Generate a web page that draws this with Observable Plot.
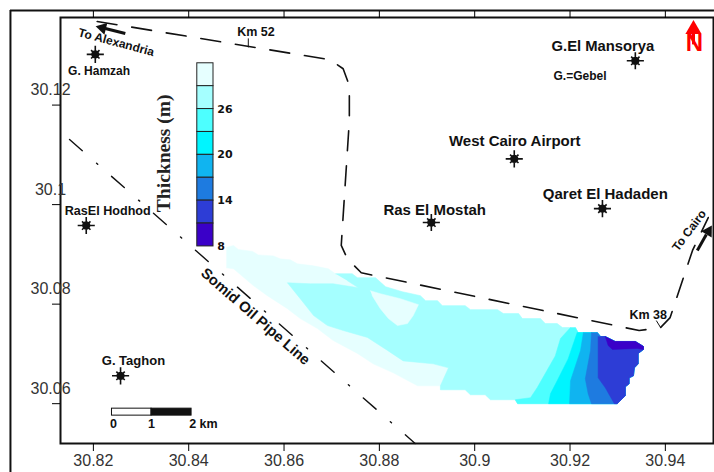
<!DOCTYPE html>
<html>
<head>
<meta charset="utf-8">
<script src="https://cdn.jsdelivr.net/npm/d3@7"></script>
<script src="https://cdn.jsdelivr.net/npm/@observablehq/plot@0.6"></script>
<style>html,body{margin:0;padding:0;background:#fff}svg{display:block}</style>
</head>
<body>
<div id="chart"></div>
<script>
const xTicks = [30.82, 30.84, 30.86, 30.88, 30.9, 30.92, 30.94];
const yTicks = [30.06, 30.08, 30.1, 30.12];

const levelColors = ["#e6ffff", "#a5ffff", "#4dffff", "#00f5ff", "#10b4f0", "#1e7be0", "#2d3dd6", "#3a00c8"];
const legendBreaks = [32, 29, 26, 23, 20, 17, 14, 11, 8];
const legendLabels = [26, 20, 14, 8];

const leftTop = [[30.8479,30.0914],[30.8494,30.0918],[30.8504,30.0910],[30.8534,30.0906],[30.8546,30.0899],[30.8578,30.0897],[30.8592,30.0891],[30.8613,30.0889],[30.8628,30.0881],[30.8662,30.0877],[30.8693,30.0871]];
const topEdge = [[30.8708,30.0861],[30.8743,30.0861],[30.8754,30.0853],[30.8792,30.0853],[30.8813,30.0835],[30.8848,30.0825],[30.8886,30.0817],[30.8897,30.0807],[30.8922,30.0807],[30.8932,30.0797],[30.8980,30.0797],[30.8991,30.0789],[30.9048,30.0789],[30.9060,30.0781],[30.9092,30.0781],[30.9100,30.0771],[30.9138,30.0771],[30.9148,30.0761],[30.9173,30.0761],[30.9184,30.0753],[30.9211,30.0753],[30.9217,30.0743]];
const rim = [[30.9299,30.0600],[30.9316,30.0616],[30.9316,30.0634],[30.9324,30.0640],[30.9324,30.0652],[30.9333,30.0656],[30.9335,30.0672],[30.9343,30.0680],[30.9343,30.0701],[30.9354,30.0709],[30.9354,30.0715],[30.9337,30.0725],[30.9295,30.0725],[30.9274,30.0735],[30.9264,30.0735],[30.9257,30.0743],[30.9217,30.0743],[30.9211,30.0753]];
const bottomNear = [[30.9090,30.0600],[30.9085,30.0608],[30.9033,30.0608],[30.9022,30.0618],[30.8991,30.0618],[30.8980,30.0628],[30.8928,30.0628],[30.8928,30.0636]];
const bottomFar = [[30.8880,30.0636],[30.8829,30.0662],[30.8787,30.0680],[30.8754,30.0701],[30.8703,30.0727],[30.8670,30.0751],[30.8634,30.0771],[30.8607,30.0791],[30.8565,30.0817],[30.8536,30.0837],[30.8494,30.0871],[30.8479,30.0873]];
const innerEdge = [[30.8945,30.0672],[30.8913,30.0680],[30.8850,30.0686],[30.8817,30.0707],[30.8775,30.0733],[30.8724,30.0747],[30.8691,30.0757],[30.8662,30.0777],[30.8634,30.0811],[30.8607,30.0843],[30.8655,30.0841],[30.8703,30.0841],[30.8756,30.0833],[30.8733,30.0847]];
const island = [[30.8781,30.0827],[30.8802,30.0821],[30.8844,30.0811],[30.8882,30.0799],[30.8871,30.0777],[30.8859,30.0761],[30.8838,30.0757],[30.8819,30.0771],[30.8802,30.0791],[30.8785,30.0817]];
const edgeC = [[30.9201,30.0753],[30.9180,30.0731],[30.9169,30.0696],[30.9131,30.0632],[30.9117,30.0612],[30.9085,30.0608],[30.9090,30.0600]];
const edgeD = [[30.9215,30.0743],[30.9196,30.0690],[30.9173,30.0646],[30.9159,30.0620],[30.9155,30.0600]];
const edgeE = [[30.9228,30.0743],[30.9222,30.0707],[30.9201,30.0646],[30.9199,30.0600]];
const edgeF = [[30.9245,30.0743],[30.9243,30.0707],[30.9232,30.0650],[30.9238,30.0620],[30.9245,30.0600]];
const edgeG = [[30.9259,30.0735],[30.9259,30.0652],[30.9274,30.0632],[30.9293,30.0600]];
const deepest = [[30.9274,30.0735],[30.9280,30.0717],[30.9289,30.0709],[30.9341,30.0711],[30.9354,30.0709],[30.9354,30.0715],[30.9337,30.0725],[30.9295,30.0725]];

const road = [[30.8208,30.1368],[30.8697,30.1291],[30.8724,30.1273],[30.8737,30.1239],[30.8737,30.1169],[30.8720,30.0918],[30.8733,30.0891],[30.8762,30.0863],[30.9345,30.0747],[30.9390,30.0753],[30.9410,30.0773],[30.9457,30.0908],[30.9490,30.0974]];
const pipeline = [[30.8150,30.1131],[30.8875,30.0520]];

const siteNames = ["G. Hamzah","G.El Mansorya","West Cairo Airport","Qaret El Hadaden","Ras El Mostah","RasEl Hodhod","G. Taghon"];
const siteLon = [30.8204,30.9337,30.9083,30.9268,30.8909,30.8185,30.8257];
const siteLat = [30.1302,30.1289,30.1092,30.0992,30.0964,30.0958,30.0656];
const labelLon = [30.8212,30.9269,30.9084,30.9274,30.8916,30.8230,30.8284];
const labelLat = [30.1269,30.1318,30.1127,30.1020,30.0988,30.0988,30.0686];
const labelSize = [12,14.8,15,15,15,12.6,13];

const starBurst = {
  draw(ctx, size) {
    const r = Math.sqrt(size);
    for (let i = 0; i < 8; i++) {
      const a = i * Math.PI / 4;
      const k = i % 2 ? 0.8 : 1.15;
      ctx.moveTo(0, 0);
      ctx.lineTo(Math.cos(a) * r * k, Math.sin(a) * r * k);
    }
    ctx.moveTo(r * 0.45, 0);
    ctx.arc(0, 0, r * 0.45, 0, 2 * Math.PI);
  }
};

const lonOf = d => d[0], latOf = d => d[1];
const poly = (pts, fill) => Plot.line(pts, {x: lonOf, y: latOf, fill, stroke: fill, strokeWidth: 0.5});
const withRim = edge => edge.concat(rim.filter(p => p[0] > edge[0][0]));
const sans = "Liberation Sans, Arial, sans-serif";
const label = (text, x, y, size, extra = {}) =>
  Plot.text([text], {x: () => x, y: () => y, text: d => d, fontSize: size, fontWeight: "bold", fontFamily: sans, fill: "#111", ...extra});

const reversedRim = rim.slice().reverse();
const legendX1 = 30.8418, legendX2 = 30.8452;
const legendLat = v => 30.0916 + (v - 8) * (30.1284 - 30.0916) / 24;
const legendCells = levelColors.map((c, i) => ({c, top: legendBreaks[i], bottom: legendBreaks[i + 1]}));

const chart = Plot.plot({
  width: 714,
  height: 472,
  marginLeft: 60,
  marginRight: 1,
  marginTop: 17,
  marginBottom: 29,
  style: {background: "white", fontFamily: sans},
  x: {domain: [30.8131, 30.9501], ticks: xTicks},
  y: {domain: [30.0520, 30.1376], ticks: yTicks},
  marks: [
    poly([...leftTop, ...topEdge, ...reversedRim, ...bottomNear, ...bottomFar], levelColors[0]),
    poly([...topEdge, ...reversedRim, ...bottomNear, ...innerEdge], levelColors[1]),
    poly(island, levelColors[0]),
    poly(withRim(edgeC), levelColors[2]),
    poly(withRim(edgeD), levelColors[3]),
    poly(withRim(edgeE), levelColors[4]),
    poly(withRim(edgeF), levelColors[5]),
    poly(withRim(edgeG), levelColors[6]),
    poly(deepest, levelColors[7]),

    Plot.line(road, {x: lonOf, y: latOf, stroke: "#111", strokeWidth: 1.6, strokeDasharray: "20,15"}),
    Plot.line(pipeline, {x: lonOf, y: latOf, stroke: "#111", strokeWidth: 1.4, strokeDasharray: "17,19,1.5,18.4"}),
    Plot.link([0], {x1: () => 30.8525, x2: () => 30.8525, y1: () => 30.1334, y2: () => 30.1316, stroke: "#111"}),
    Plot.link([0], {x1: () => 30.9381, x2: () => 30.9390, y1: () => 30.0767, y2: () => 30.0753, stroke: "#111"}),

    Plot.frame({stroke: "#111", strokeWidth: 2}),
    Plot.ruleX([30.8026], {y1: 30.1390, y2: 30.0461, stroke: "#111", strokeWidth: 2}),
    Plot.ruleY([30.1390], {x1: 30.8026, x2: 30.9503, stroke: "#111", strokeWidth: 2}),

    Plot.axisX({anchor: "bottom", ticks: xTicks, tickSize: 8, tickPadding: 3, label: null, fontSize: 16, fontFamily: sans, fill: "#333", tickFormat: d => String(d)}),
    Plot.axisX({anchor: "top", ticks: xTicks, tickSize: 7, label: null, tickFormat: () => ""}),
    Plot.axisY({anchor: "left", ticks: yTicks, tickSize: 8, label: null, tickFormat: () => ""}),
    Plot.axisY({anchor: "left", ticks: yTicks, tickSize: 0, tickPadding: 10, textAnchor: "middle", dy: -15, label: null, fontSize: 16, fontFamily: sans, fill: "#333", tickFormat: d => String(d)}),

    Plot.dot(siteNames, {x: (d, i) => siteLon[i], y: (d, i) => siteLat[i], r: 4.2, symbol: starBurst, stroke: "#111", strokeWidth: 1.6, fill: "#111"}),
    Plot.text(siteNames, {x: (d, i) => labelLon[i], y: (d, i) => labelLat[i], text: d => d, fontSize: (d, i) => labelSize[i], fontWeight: "bold", fontFamily: sans, fill: "#111"}),
    label("G.=Gebel", 30.9221, 30.1259, 12),
    label("Km 52", 30.8541, 30.1346, 12.5),
    label("Km 38", 30.9364, 30.0779, 12.5),
    label("To Alexandria", 30.8248, 30.1326, 12, {rotate: 15}),
    label("Somid Oil Pipe Line", 30.8540, 30.0775, 14.8, {rotate: 41}),
    label("To Cairo", 30.9450, 30.0948, 12, {rotate: -53}),
    label("Thickness (m)", 30.8347, 30.1103, 19.5, {rotate: -90, fontFamily: "Liberation Serif, serif", fill: "#222"}),

    Plot.link([0], {x1: () => 30.8267, y1: () => 30.1344, x2: () => 30.8225, y2: () => 30.1354, stroke: "#111", strokeWidth: 3}),
    Plot.dot([0], {x: () => 30.8219, y: () => 30.1355, symbol: "triangle", r: 4.5, rotate: -76, fill: "#111"}),
    Plot.link([0], {x1: () => 30.9467, y1: () => 30.0908, x2: () => 30.9486, y2: () => 30.0940, stroke: "#111", strokeWidth: 3}),
    Plot.dot([0], {x: () => 30.9490, y: () => 30.0946, symbol: "triangle", r: 4.5, rotate: 31, fill: "#111"}),

    Plot.rect(legendCells, {x1: () => legendX1, x2: () => legendX2, y1: d => legendLat(d.bottom), y2: d => legendLat(d.top), fill: d => d.c, stroke: "#222", strokeWidth: 1}),
    Plot.text(legendLabels, {x: () => 30.8460, y: d => legendLat(d), text: d => String(d), textAnchor: "start", fontSize: 11, fontWeight: "bold", fontFamily: "DejaVu Sans, sans-serif", fill: "#111"}),

    Plot.rect([0], {x1: () => 30.8239, x2: () => 30.8322, y1: () => 30.0576, y2: () => 30.0590, fill: "white", stroke: "#111"}),
    Plot.rect([0], {x1: () => 30.8322, x2: () => 30.8406, y1: () => 30.0576, y2: () => 30.0590, fill: "#111", stroke: "#111"}),
    label("0", 30.8242, 30.0560, 12.5),
    label("1", 30.8322, 30.0560, 12.5),
    label("2 km", 30.8401, 30.0560, 12.5, {textAnchor: "start"}),

    Plot.link([0], {x1: () => 30.9459, x2: () => 30.9459, y1: () => 30.1350, y2: () => 30.1322, stroke: "red", strokeWidth: 3}),
    Plot.dot([0], {x: () => 30.9459, y: () => 30.1352, symbol: "triangle", r: 6, fill: "red"}),
    label("N", 30.9461, 30.1324, 24, {fill: "red"})
  ]
});
document.getElementById("chart").append(chart);
</script>
</body>
</html>
